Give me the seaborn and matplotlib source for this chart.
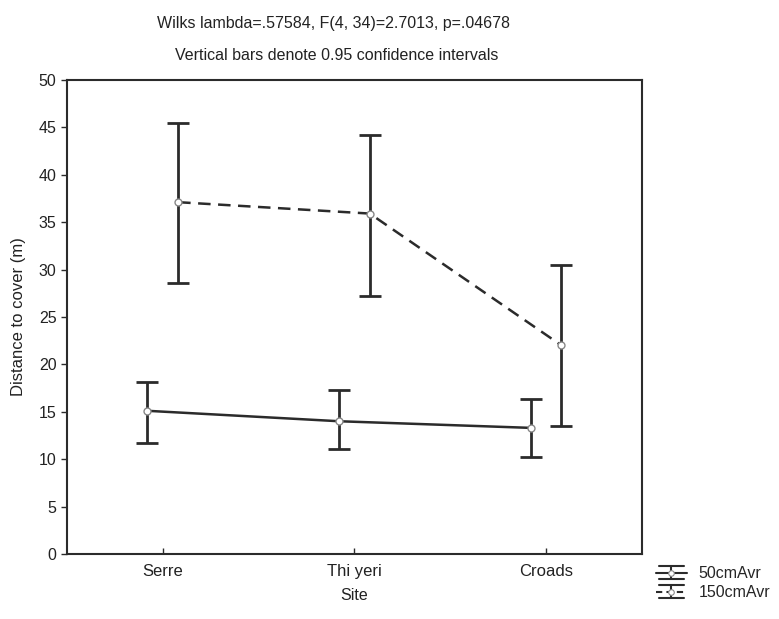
import matplotlib
matplotlib.use("Agg")
import matplotlib.pyplot as plt
from matplotlib.legend_handler import HandlerBase
from matplotlib.lines import Line2D
import numpy as np
import pandas as pd
import seaborn as sns

# Site means of distance to cover, with 0.95 confidence limits
sites = ["Serre", "Thi yeri", "Croads"]
series = ["50cmAvr", "150cmAvr"]
mean_50 = [15.1, 14.0, 13.3]
low_50 = [11.7, 11.1, 10.2]
high_50 = [18.1, 17.3, 16.3]
mean_150 = [37.1, 35.9, 22.0]
low_150 = [28.6, 27.2, 13.5]
high_150 = [45.5, 44.2, 30.5]

title_1 = "Wilks lambda=.57584, F(4, 34)=2.7013, p=.04678"
title_2 = "Vertical bars denote 0.95 confidence intervals"
y_ticks = [0, 5, 10, 15, 20, 25, 30, 35, 40, 45, 50]

df = pd.DataFrame({
    "Site": sites * 2,
    "Series": [series[0]] * 3 + [series[1]] * 3,
    "Mean": mean_50 + mean_150,
})

sns.set_theme(style="white")
plt.rcParams["font.family"] = ["Liberation Sans", "DejaVu Sans"]

fig = plt.figure(figsize=(7.79, 6.19), dpi=100)
ax = fig.add_axes([0.086, 0.105, 0.738, 0.766])

ink = "#2b2b2b"
text_col = "#222222"
dodge = 0.16
sns.pointplot(data=df, x="Site", y="Mean", hue="Series", order=sites,
              hue_order=series, dodge=dodge, errorbar=None,
              palette=[ink, ink], markers="", linestyles=["-", "--"],
              linewidth=1.8, legend=False, ax=ax)
for line in ax.lines:
    if line.get_linestyle() == "--":
        line.set_dashes([5, 3])

offsets = [-dodge / 2, dodge / 2]
proxies = []
for k, (m, lo, hi, ls) in enumerate([(mean_50, low_50, high_50, "-"),
                                      (mean_150, low_150, high_150, "--")]):
    m = np.array(m)
    xs = np.arange(len(sites)) + offsets[k]
    yerr = [m - np.array(lo), np.array(hi) - m]
    ax.errorbar(xs, m, yerr=yerr, fmt="none", ecolor=ink, elinewidth=2.0,
                capsize=8, capthick=2.0, zorder=3)
    ax.plot(xs, m, linestyle="none", marker="o", markersize=5,
            markerfacecolor="white", markeredgecolor="#888888",
            markeredgewidth=1.0, zorder=4)
    proxies.append(Line2D([0], [0], color=ink, linestyle=ls, linewidth=1.5))


class MeanWhiskerHandler(HandlerBase):
    """Legend key: series line crossed by a capped whisker."""

    def create_artists(self, legend, orig_handle, xdescent, ydescent,
                       width, height, fontsize, trans):
        x0, x1 = -xdescent, -xdescent + width
        xc = (x0 + x1) / 2
        yc = -ydescent + height / 2
        half = height * 0.62
        ls = orig_handle.get_linestyle()
        mid = Line2D([x0, x1], [yc, yc], color=ink, linewidth=1.5,
                     linestyle=ls, transform=trans)
        if ls == "--":
            mid.set_dashes([3, 2])
        stem = Line2D([xc, xc], [yc - half, yc + half], color=ink,
                      linewidth=1.5, transform=trans)
        top = Line2D([x0 + 2, x1 - 2], [yc + half, yc + half], color=ink,
                     linewidth=1.5, transform=trans)
        bot = Line2D([x0 + 2, x1 - 2], [yc - half, yc - half], color=ink,
                     linewidth=1.5, transform=trans)
        dot = Line2D([xc], [yc], marker="o", markersize=4, linestyle="none",
                     markerfacecolor="white", markeredgecolor="#888888",
                     markeredgewidth=0.8, transform=trans)
        return [mid, stem, top, bot, dot]


ax.set_xlim(-0.5, 2.5)
ax.set_ylim(0, 50)
ax.set_yticks(y_ticks)
ax.set_yticklabels([str(t) for t in y_ticks])
ax.set_xlabel("Site", fontsize=11.5, labelpad=7, color=text_col)
ax.set_ylabel("Distance to cover (m)", fontsize=12, labelpad=9,
              color=text_col)

for side in ["left", "right", "top", "bottom"]:
    ax.spines[side].set_visible(True)
    ax.spines[side].set_color(ink)
    ax.spines[side].set_linewidth(1.5)

ax.tick_params(axis="y", which="both", left=True, direction="out", length=4,
               width=1, colors=ink, labelsize=11.5, labelcolor=text_col)
ax.tick_params(axis="x", which="both", bottom=True, direction="in", length=4,
               width=1, colors=ink, labelsize=12, labelcolor=text_col, pad=7)

fig.text(0.428, 0.962, title_1, ha="center", va="center", fontsize=11.5,
         color=text_col)
fig.text(0.432, 0.910, title_2, ha="center", va="center", fontsize=11.5,
         color=text_col)

fig.legend(handles=proxies, labels=series, loc="center left",
           bbox_to_anchor=(0.824, 0.058), frameon=False, fontsize=11.5,
           handlelength=1.9, handletextpad=0.75, labelspacing=0.25,
           handler_map={Line2D: MeanWhiskerHandler()})

fig.savefig("out.png", dpi=100, facecolor="white")
